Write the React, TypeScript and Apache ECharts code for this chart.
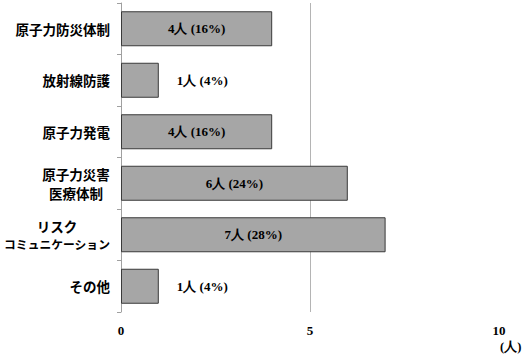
import React, { useEffect, useRef } from "react";
import * as echarts from "echarts";

const categories = [
  "原子力防災体制",
  "放射線防護",
  "原子力発電",
  "原子力災害\n医療体制",
  "リスク\nコミュニケーション",
  "その他",
];
const counts = [4, 1, 4, 6, 7, 1];
const percents = [16, 4, 16, 24, 28, 4];
const xTicks = [0, 5, 10];
const unitLabel = "(人)";

const catLabel = (v: string) => {
  if (v === "原子力災害\n医療体制") return "{m1|原子力災害}\n{m1|医療体制}";
  if (v === "リスク\nコミュニケーション")
    return "{m2|リスク}\n{k|コミュニケーション}";
  return "{s|" + v + "}";
};

export default function App() {
  const ref = useRef<HTMLDivElement>(null);
  useEffect(() => {
    if (!ref.current) return;
    const chart = echarts.init(ref.current, null, { renderer: "svg" });
    const cjk = '"Noto Sans CJK JP", sans-serif';
    const serif = '"Liberation Serif", "Times New Roman", serif';
    chart.setOption({
      animation: false,
      backgroundColor: "#ffffff",
      grid: { left: 121, right: 23, top: 3, bottom: 48, containLabel: false },
      xAxis: {
        type: "value",
        min: xTicks[0],
        max: xTicks[xTicks.length - 1],
        interval: 5,
        axisLine: { show: false },
        axisTick: { show: false },
        axisLabel: {
          margin: 12,
          color: "#000",
          fontFamily: serif,
          fontWeight: "bold",
          fontSize: 13,
        },
        splitLine: {
          show: true,
          showMinLine: false,
          showMaxLine: false,
          lineStyle: { color: "#b4b4b4", width: 1 },
        },
      },
      yAxis: {
        type: "category",
        inverse: true,
        data: categories,
        axisLine: { show: true, lineStyle: { color: "#a0a0a0", width: 1 } },
        axisTick: { show: true, length: 4, lineStyle: { color: "#a0a0a0" } },
        axisLabel: {
          margin: 11,
          color: "#000",
          formatter: catLabel,
          rich: {
            s: { fontFamily: cjk, fontWeight: "bold", fontSize: 13.5, color: "#000" },
            m1: {
              fontFamily: cjk,
              fontWeight: "bold",
              fontSize: 13.5,
              color: "#000",
              width: 68,
              align: "center",
              lineHeight: 19,
            },
            m2: {
              fontFamily: cjk,
              fontWeight: "bold",
              fontSize: 13.5,
              color: "#000",
              width: 106,
              align: "center",
              lineHeight: 17,
            },
            k: {
              fontFamily: cjk,
              fontWeight: "bold",
              fontSize: 11.8,
              color: "#000",
              width: 106,
              align: "center",
              lineHeight: 17,
            },
          },
        },
        splitLine: { show: false },
      },
      series: [
        {
          type: "bar",
          barWidth: 35,
          itemStyle: { color: "#a6a6a6", borderColor: "#3a3a3a", borderWidth: 1 },
          data: counts.map((c, i) => ({
            value: c,
            label: {
              show: true,
              position: c < 2 ? "right" : "inside",
              distance: 18,
              formatter: `${c}人 (${percents[i]}%)`,
              fontFamily: serif,
              fontWeight: "bold",
              fontSize: 13,
              color: "#000",
            },
          })),
        },
      ],
      graphic: [
        {
          type: "text",
          left: 500,
          top: 340,
          style: {
            text: unitLabel,
            fontFamily: serif,
            fontWeight: "bold",
            fontSize: 12.5,
            fill: "#000",
          },
        },
      ],
    });
    return () => chart.dispose();
  }, []);
  return <div ref={ref} style={{ width: 522, height: 360, position: "absolute", left: 0, top: 0 }} />;
}
